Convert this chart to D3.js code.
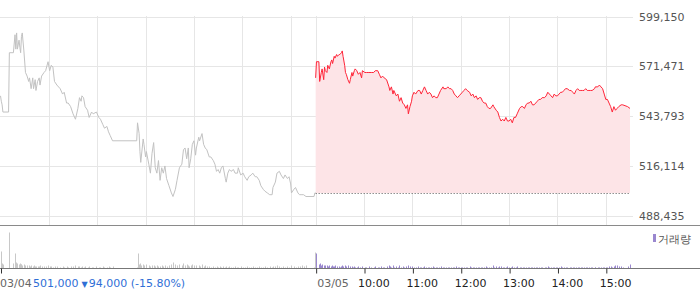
<!DOCTYPE html>
<html>
<head>
<meta charset="utf-8">
<script src="https://cdn.jsdelivr.net/npm/d3@7"></script>
<style>
body { margin: 0; background: #fff; }
text { font-family: "DejaVu Sans", Verdana, sans-serif; }
</style>
</head>
<body>
<div id="chart"></div>
<script>
var w = 700;
var h = 289;

// 03/04 session
var day1Time = ["09:00","09:01","09:02","09:03","09:10","09:11","09:16","09:18","09:19","09:20","09:21","09:23","09:24","09:25","09:26","09:27","09:29","09:31","09:33","09:35","09:36","09:38","09:40","09:41","09:43","09:44","09:46","09:48","09:49","09:51","09:54","09:56","09:59","10:01","10:03","10:05","10:07","10:10","10:14","10:17","10:19","10:22","10:24","10:27","10:30","10:33","10:36","10:38","10:40","10:41","10:43","10:45","10:48","10:50","10:53","10:55","10:59","11:02","11:04","11:07","11:09","11:12","11:14","11:16","11:19","11:49","11:50","11:52","11:53","11:54","11:57","11:58","12:00","12:01","12:04","12:06","12:08","12:10","12:12","12:14","12:16","12:18","12:20","12:22","12:24","12:26","12:29","12:32","12:34","12:37","12:39","12:42","12:45","12:47","12:49","12:51","12:53","12:54","12:56","12:58","13:00","13:02","13:03","13:06","13:07","13:10","13:12","13:14","13:16","13:19","13:21","13:24","13:26","13:28","13:30","13:32","13:34","13:36","13:39","13:40","13:42","13:44","13:46","13:49","13:51","13:54","13:55","13:58","14:01","14:03","14:06","14:08","14:11","14:13","14:16","14:18","14:21","14:23","14:26","14:28","14:31","14:34","14:37","14:38","14:41","14:43","14:46","14:48","14:51","14:53","14:56","14:58","15:00","15:01","15:04","15:06","15:09","15:11","15:14","15:16","15:19","15:29","15:30"];
var day1Price = [555000,552000,550000,546000,546000,579000,579000,589000,581000,590000,581000,586000,582000,579000,588000,590000,580000,568000,566000,563000,565000,559000,565000,559000,564000,558000,563000,565000,561000,566000,568000,569000,574000,569000,572000,571000,563000,561000,559000,556000,557000,551000,551000,549000,545000,542000,548000,554000,552000,555000,554000,549000,547000,543000,546000,545000,546000,543000,542000,539000,537000,538000,535000,533000,530000,530000,540000,534000,524000,518000,531000,528000,521000,524000,517000,512000,523000,529000,515000,512000,519000,508000,515000,512000,516000,509000,505000,501000,499000,503000,508000,515000,517000,525000,526000,520000,526000,515000,520000,528000,530000,522000,526000,532000,530000,534000,528000,526000,525000,521000,521000,519000,517000,513000,514000,512000,515000,516000,509000,507000,512000,514000,513000,514000,512000,512000,515000,511000,512000,510000,508000,510000,511000,512000,510000,510000,508000,505000,503000,502000,501000,500000,500000,504000,507000,512000,513000,511000,509000,511000,509000,510000,506000,501000,503000,504000,501000,500000,500000,500000,499000,499000,501000];
var day1Volume = [1700,700,500,400,200,3600,500,1500,600,500,400,400,500,400,400,300,400,300,300,300,200,300,200,300,200,200,200,200,300,200,200,200,300,200,200,100,200,200,100,200,100,200,100,200,200,300,200,200,100,200,100,200,100,200,100,100,200,100,100,200,100,100,200,100,200,100,1500,400,500,300,400,300,300,400,300,200,300,300,200,300,200,200,300,200,300,200,300,400,600,400,300,400,300,500,300,400,300,200,300,400,300,200,300,300,200,400,200,300,200,200,100,200,100,200,100,200,100,200,100,200,100,200,100,100,200,100,100,200,100,100,200,100,100,200,100,100,200,100,100,200,100,200,100,200,200,300,200,100,200,100,200,100,200,300,200,100,200,200,300,200,300,100,1600];

// 03/05 session
var day2Time = ["09:00","09:01","09:04","09:05","09:07","09:08","09:10","09:11","09:12","09:14","09:15","09:17","09:19","09:20","09:21","09:23","09:24","09:26","09:27","09:29","09:30","09:32","09:33","09:34","09:36","09:37","09:38","09:40","09:42","09:43","09:45","09:46","09:48","09:49","09:51","09:53","09:55","09:57","09:58","10:01","10:03","10:06","10:09","10:12","10:14","10:17","10:19","10:21","10:23","10:25","10:28","10:31","10:32","10:34","10:36","10:37","10:40","10:42","10:44","10:46","10:48","10:50","10:52","10:54","10:55","10:57","10:59","11:00","11:02","11:04","11:07","11:09","11:11","11:13","11:15","11:17","11:19","11:21","11:23","11:25","11:27","11:29","11:31","11:33","11:35","11:38","11:39","11:42","11:44","11:46","11:48","11:50","11:52","11:54","11:56","11:58","12:00","12:02","12:04","12:06","12:08","12:11","12:13","12:15","12:17","12:19","12:21","12:23","12:25","12:27","12:29","12:31","12:33","12:35","12:37","12:40","12:41","12:44","12:46","12:48","12:50","12:52","12:54","12:56","12:58","13:00","13:02","13:04","13:06","13:08","13:10","13:13","13:15","13:17","13:19","13:21","13:23","13:25","13:27","13:29","13:31","13:33","13:35","13:37","13:39","13:41","13:44","13:46","13:48","13:50","13:52","13:54","13:56","13:58","14:00","14:02","14:04","14:06","14:08","14:10","14:12","14:15","14:17","14:19","14:21","14:23","14:25","14:27","14:29","14:31","14:33","14:35","14:37","14:39","14:41","14:43","14:46","14:47","14:50","14:52","14:54","14:56","14:58","15:00","15:02","15:04","15:06","15:08","15:10","15:12","15:14","15:16","15:19","15:21","15:27","15:30"];
var day2Price = [565000,574000,574000,563000,568000,570000,564000,571000,569000,568000,572000,570000,574000,575000,573000,577000,576000,578000,577000,578000,578000,579000,580000,577000,572000,568000,567000,564000,562000,564000,568000,566000,569000,570000,569000,567000,568000,565000,569000,568000,568000,568000,568000,568000,569000,569000,567000,565000,566000,565000,564000,560000,558000,560000,556000,558000,555000,556000,552000,554000,551000,550000,548000,550000,545000,549000,552000,555000,557000,556000,558000,558000,556000,558000,560000,558000,556000,557000,556000,554000,555000,554000,554000,556000,558000,560000,559000,559000,560000,559000,559000,558000,556000,555000,554000,555000,556000,557000,558000,559000,558000,557000,555000,556000,554000,555000,553000,554000,554000,552000,551000,551000,549000,548000,548000,550000,549000,547000,546000,543000,541000,542000,541000,543000,541000,541000,542000,540000,543000,543000,545000,548000,549000,549000,548000,550000,551000,551000,552000,550000,550000,551000,552000,553000,553000,554000,554000,555000,557000,556000,555000,554000,556000,555000,555000,556000,557000,557000,558000,559000,559000,558000,558000,557000,556000,558000,559000,558000,558000,558000,558000,559000,558000,558000,558000,558000,559000,560000,560000,561000,560000,559000,556000,553000,553000,551000,549000,546000,549000,547000,548000,549000,550000,550000,549000,548000];
var day2Volume = [1500,600,400,500,300,400,300,300,200,300,200,300,200,300,200,200,300,200,100,200,100,200,300,200,300,200,200,300,200,100,200,100,200,100,100,200,100,100,200,100,100,200,100,100,200,100,100,200,100,100,200,300,200,100,300,100,200,100,300,100,200,100,200,100,300,200,100,200,100,100,200,100,100,100,200,100,100,100,100,200,100,100,100,100,200,100,100,100,100,100,100,100,100,200,100,100,100,100,100,100,100,200,100,100,100,100,100,100,100,100,100,200,100,100,100,300,100,200,100,200,200,100,100,100,200,100,100,200,100,100,200,100,100,100,100,100,100,100,100,100,100,100,100,100,100,100,100,100,200,100,100,100,100,100,100,100,200,100,100,100,100,100,100,100,100,100,100,100,100,100,100,100,100,100,100,100,100,100,100,100,100,100,100,100,100,200,200,100,200,300,300,200,200,100,200,400,0,0,1260];

var prevClose = 501000;
var priceTicks = [599150, 571471, 543793, 516114, 488435];
var dateLabels = ["03/04", "03/05"];
var hourLabels = ["10:00", "11:00", "12:00", "13:00", "14:00", "15:00"];
var changeLabel = ["501,000", "\u25BC", "94,000 (-15.80%)"];

function idx(t, day) {
	var p = t.split(":");
	return day * 391 + (+p[0] - 9) * 60 + (+p[1]);
}

var svg = d3.select("#chart").append("svg").attr("width", w).attr("height", h);

var x = d3.scaleLinear().domain([0, 781]).range([0.5, 630]);
var y = d3.scaleLinear().domain([488435, 599150]).range([215.5, 16.5]);
var yv = d3.scaleLinear().domain([0, 4000]).range([268.5, 228.5]);

var d1 = day1Time.map(function (t, i) { return { i: idx(t, 0), p: day1Price[i], v: day1Volume[i] }; });
var d2 = day2Time.map(function (t, i) { return { i: idx(t, 1), p: day2Price[i], v: day2Volume[i] }; });

// grid
var vgrid = [60, 120, 180, 240, 300, 360, 391];
hourLabels.forEach(function (s) { vgrid.push(idx(s, 1)); });

svg.append("g").selectAll("line").data(priceTicks).enter().append("line")
	.attr("x1", 0).attr("x2", 633)
	.attr("y1", function (d) { return Math.round(y(d)) + 0.5; })
	.attr("y2", function (d) { return Math.round(y(d)) + 0.5; })
	.attr("stroke", "#e6e6e6");

svg.append("g").selectAll("line").data(vgrid).enter().append("line")
	.attr("x1", function (d) { return Math.round(x(d)) + 0.5; })
	.attr("x2", function (d) { return Math.round(x(d)) + 0.5; })
	.attr("y1", 16).attr("y2", 225)
	.attr("stroke", "#e6e6e6");

// price axis
var yAxis = d3.axisRight(y).tickValues(priceTicks).tickSize(0).tickPadding(6).tickFormat(d3.format(","));
var ya = svg.append("g").attr("transform", "translate(633,0)").call(yAxis);
ya.select(".domain").remove();
ya.selectAll("text").attr("fill", "#555").attr("font-size", 11).attr("font-family", "DejaVu Sans, Verdana, sans-serif");

// day 2 area down to previous close
var area = d3.area()
	.x(function (d) { return x(d.i); })
	.y0(y(prevClose))
	.y1(function (d) { return y(d.p); });
svg.append("path").datum(d2).attr("d", area).attr("fill", "#fde4e7");

svg.append("line")
	.attr("x1", x(391)).attr("x2", x(781))
	.attr("y1", Math.round(y(prevClose)) + 0.5).attr("y2", Math.round(y(prevClose)) + 0.5)
	.attr("stroke", "#555").attr("stroke-dasharray", "1,2");

var line = d3.line()
	.x(function (d) { return x(d.i); })
	.y(function (d) { return y(d.p); });

svg.append("path").datum(d1.concat([d2[0]].map(function (d) { return { i: d.i, p: prevClose }; })))
	.attr("d", line).attr("fill", "none").attr("stroke", "#c2c2c2").attr("stroke-width", 1);
svg.append("path").datum(d2)
	.attr("d", line).attr("fill", "none").attr("stroke", "#ff2438").attr("stroke-width", 1);

// separators
svg.append("line").attr("x1", 0).attr("x2", w).attr("y1", 225.5).attr("y2", 225.5).attr("stroke", "#8a8a8a");

// volume
svg.append("g").selectAll("rect").data(d1).enter().append("rect")
	.attr("x", function (d) { return Math.round(x(d.i)); })
	.attr("width", 1)
	.attr("y", function (d) { return yv(d.v); })
	.attr("height", function (d) { return 268.5 - yv(d.v); })
	.attr("fill", "#c8c8c8");
svg.append("g").selectAll("rect").data(d2).enter().append("rect")
	.attr("x", function (d) { return Math.round(x(d.i)); })
	.attr("width", 1)
	.attr("y", function (d) { return yv(d.v); })
	.attr("height", function (d) { return 268.5 - yv(d.v); })
	.attr("fill", "#9a87cf");

svg.append("line").attr("x1", 0).attr("x2", w).attr("y1", 268.5).attr("y2", 268.5).attr("stroke", "#777");

svg.append("rect").attr("x", 653).attr("y", 234).attr("width", 3).attr("height", 8).attr("fill", "#9a87cf");
svg.append("text").text("거래량").attr("x", 658).attr("y", 242.5)
	.attr("font-size", 11).attr("fill", "#555").attr("font-family", "Noto Sans CJK KR, sans-serif");

// time axis
var tickVals = [0, 391];
hourLabels.forEach(function (s) { tickVals.push(idx(s, 1)); });
var labelOf = {};
labelOf[0] = dateLabels[0];
labelOf[391] = dateLabels[1];
hourLabels.forEach(function (s) { labelOf[idx(s, 1)] = s; });

var xAxis = d3.axisBottom(x).tickValues(tickVals).tickSize(5).tickPadding(0)
	.tickFormat(function (d) { return labelOf[d]; });
var xa = svg.append("g").attr("transform", "translate(0,268.5)").call(xAxis);
xa.select(".domain").remove();
xa.selectAll("line").attr("stroke", "#333").attr("transform", "translate(0.5,0)");
xa.selectAll("text")
	.attr("text-anchor", "start")
	.attr("font-size", 11)
	.attr("font-family", "DejaVu Sans, Verdana, sans-serif")
	.attr("dy", null)
	.attr("y", 18)
	.attr("x", function (d) { return d === 0 ? -1 : (d === 391 ? 1 : -6.5); })
	.attr("fill", function (d) { return d <= 391 ? "#666" : "#222"; });

// last close label
var cl = svg.append("text").attr("x", 33).attr("y", 286.5)
	.attr("font-size", 11).attr("fill", "#2f6fd6");
cl.append("tspan").text(changeLabel[0]);
cl.append("tspan").text(changeLabel[1]).attr("dx", 3).attr("font-size", 8);
cl.append("tspan").text(changeLabel[2]).attr("dx", 1);
</script>
</body>
</html>
